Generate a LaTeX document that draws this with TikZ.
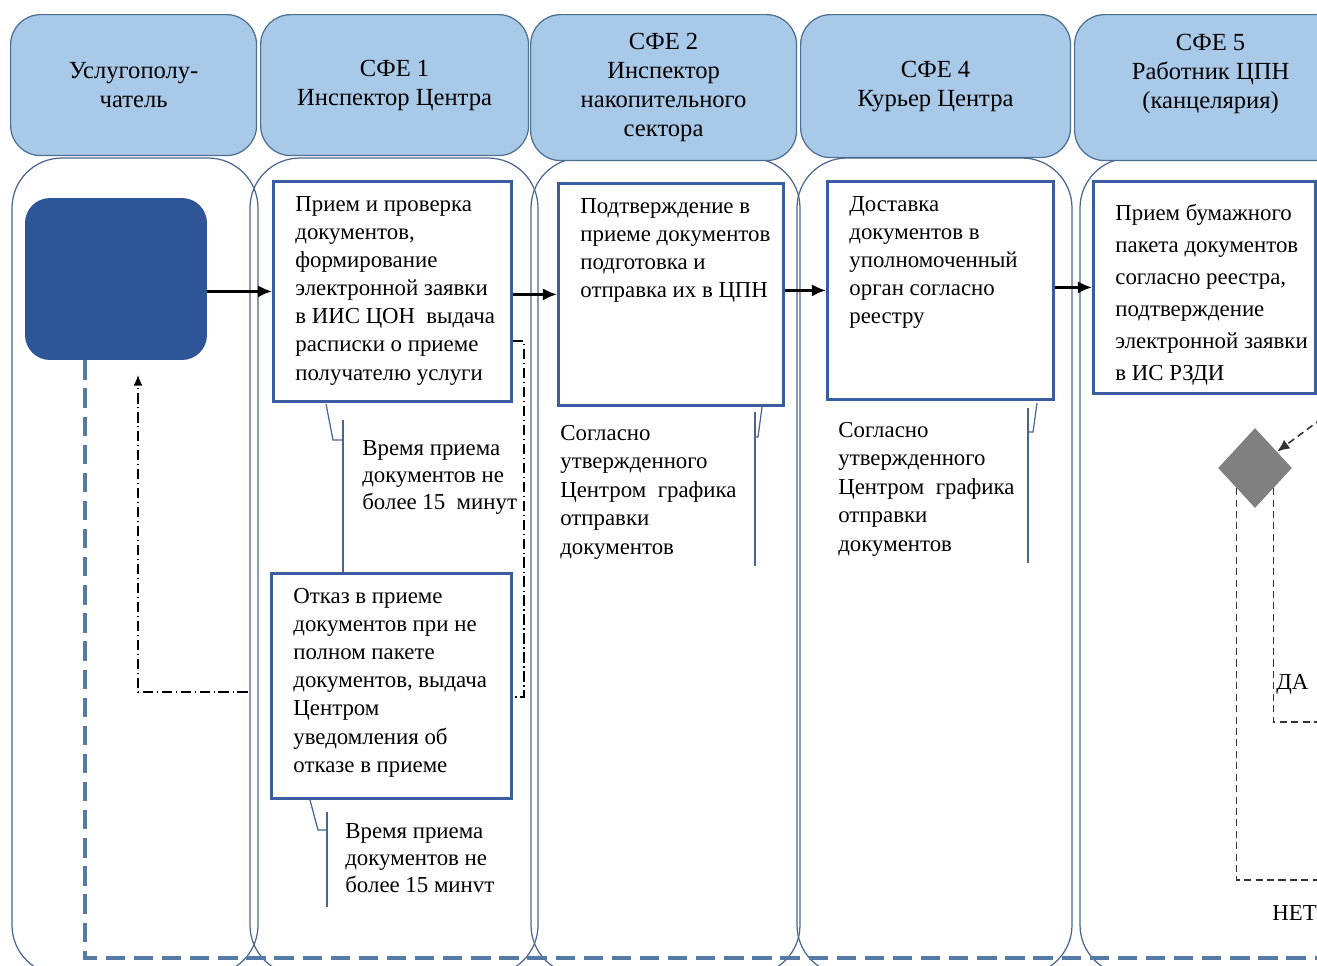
\documentclass[tikz,border=0pt]{standalone}
\usepackage{fontspec}
\setmainfont{Liberation Serif}
\usetikzlibrary{arrows,arrows.meta,shapes.geometric,calc}
\definecolor{hdrfill}{HTML}{A9C9E9}
\definecolor{hdrline}{HTML}{4E6E92}
\definecolor{laneline}{HTML}{4A6690}
\definecolor{boxline}{HTML}{3A5CA0}
\definecolor{startfill}{HTML}{2D5597}
\definecolor{backline}{HTML}{557AA6}
\tikzset{
    header/.style = {draw=hdrline, fill=hdrfill, line width=0.7pt,
        rounded corners=0.6cm, anchor=north west, align=center,
        inner sep=0pt, font=\fontsize{14}{16.5}\selectfont},
    lane/.style = {draw=laneline, line width=0.7pt, rounded corners=1cm},
    procbox/.style = {draw=boxline, line width=1.6pt, fill=white,
        anchor=north west, inner xsep=0pt, inner ysep=0.3cm,
        font=\fontsize{13}{16}\selectfont},
    note/.style = {anchor=north west, align=left, inner sep=0pt,
        font=\fontsize{13}{16}\selectfont},
    flow/.style = {draw, -{Latex[length=8pt,width=7pt]}, line width=2pt},
    callout/.style = {draw=laneline, line width=0.7pt},
    dashdot/.style = {draw, line width=0.8pt,
        dash pattern=on 6pt off 2pt on 0.8pt off 2pt},
    backdash/.style = {draw=backline, line width=2.4pt, dash pattern=on 11pt off 5pt},
    shortdash/.style = {draw=black!80, line width=0.9pt, dash pattern=on 4pt off 2.5pt}
}
\newcommand{\boxtext}[3]{\parbox[t][#2][t]{#1}{\raggedright\leftskip=0.44cm #3}}

\begin{document}
\begin{tikzpicture}[x=0.02cm, y=-0.02cm, >=latex']
        \useasboundingbox (0,0) rectangle (1317,965);
        \clip (0,0) rectangle (1317,965);
        \draw [lane] (12,158) rectangle (258,975);
        \draw [lane] (250,158) rectangle (538,975);
        \draw [lane] (531,158) rectangle (800,975);
        \draw [lane] (797,158) rectangle (1072,975);
        \draw [lane] (1080,158) rectangle (1380,975);
        \node [header, minimum width=4.92cm, minimum height=2.82cm] (client) at (10,14) {Услугополу-\\чатель};
        \node [header, minimum width=5.36cm, minimum height=2.82cm] (sfe1) at (260,14) {СФЕ 1\\Инспектор Центра};
        \node [header, minimum width=5.32cm, minimum height=2.92cm] (sfe2) at (530,14) {СФЕ 2\\Инспектор\\накопительного\\сектора};
        \node [header, minimum width=5.4cm, minimum height=2.86cm] (sfe4) at (800,14) {СФЕ 4\\Курьер Центра};
        \node [header, minimum width=5.44cm, minimum height=2.92cm] (sfe5) at (1074,14) {СФЕ 5\\Работник ЦПН\\(канцелярия)\\[2pt]\mbox{}};

        \node [fill=startfill, rounded corners=0.5cm, minimum width=3.64cm, minimum height=3.24cm] (start) at (116,279) {};
        \node [procbox] (check) at (272,180) {\boxtext{4.76cm}{3.8cm}{Прием и проверка\\документов,\\формирование\\электронной заявки\\в ИИС ЦОН~ выдача\\расписки о приеме\\получателю услуги}};
        \node [procbox] (confirm) at (557,182) {\boxtext{4.5cm}{3.84cm}{Подтверждение в\\приеме документов\\подготовка и\\отправка их в ЦПН}};
        \node [procbox] (deliver) at (826,180) {\boxtext{4.52cm}{3.76cm}{Доставка\\документов в\\уполномоченный\\орган согласно\\реестру}};
        \node [procbox, inner ysep=0.45cm, font=\fontsize{13}{18.2}\selectfont] (accept) at (1092,180) {\boxtext{4.44cm}{3.34cm}{Прием бумажного\\пакета документов\\согласно реестра,\\подтверждение\\электронной заявки\\в ИС РЗДИ}};
        \node [procbox] (refuse) at (270,572) {\boxtext{4.8cm}{3.9cm}{Отказ в приеме\\документов при не\\полном пакете\\документов, выдача\\Центром\\уведомления об\\отказе в приеме}};

        \draw [flow] (start.east |- check.west) -- (check.west);
        \draw [flow] (check.east |- confirm.west) -- (confirm.west);
        \draw [flow] (confirm.east |- deliver.west) -- (deliver.west);
        \draw [flow] (deliver.east |- accept.west) -- (accept.west);

        \node [note, font=\fontsize{13}{15.4}\selectfont] (time1) at (362,440) {Время приема\\документов не\\более 15~ минут};
        \node [note, font=\fontsize{13}{15.4}\selectfont] (time2) at (345,823) {Время приема\\документов не\\более 15 минvт};
        \node [note, font=\fontsize{13}{16.2}\selectfont] (sched2) at (560,425) {Согласно\\утвержденного\\Центром~ графика\\отправки\\документов};
        \node [note, font=\fontsize{13}{16.2}\selectfont] (sched4) at (838,422) {Согласно\\утвержденного\\Центром~ графика\\отправки\\документов};

        \draw [callout] (326,404) -- (333,440) -- (343,440);
        \draw [callout] (343,420) -- (refuse.north -| 343,0);
        \draw [callout] (310,800) -- (318,830) -- (327,830);
        \draw [callout] (327,812) -- (327,907);
        \draw [callout] (762,407) -- (758,437) -- (755,437);
        \draw [callout] (755,412) -- (755,566);
        \draw [callout] (1037,403) -- (1033,432) -- (1028,432);
        \draw [callout] (1028,408) -- (1028,563);

        \coordinate (back) at (138,375);
        \draw [dashdot] (check.east |- 0,341) -| (524,697) -- (refuse.east |- 0,697);
        \draw [dashdot, -{Latex[length=6pt,width=5pt]}] (refuse.west |- 0,692) ++(-22,0) -| (back);
        \draw [backdash] (start.south -| 85,0) -- (85,958) -- (1330,958);

        \node [diamond, fill=black!50, minimum width=1.48cm, minimum height=1.6cm, inner sep=0pt] (dec) at (1255,468) {};
        \coordinate (fromright) at (1340,405);
        \coordinate (yesend) at (1330,722);
        \coordinate (noend) at (1330,880);
        \draw [shortdash, -{Latex[length=7pt,width=6pt]}] (fromright) -- (dec);
        \draw [shortdash] (dec.south east) |- (yesend);
        \draw [shortdash] (dec.south west) |- (noend);
        \node [note] (yes) at (1276,674) {ДА};
        \node [note] (no) at (1272,905) {НЕТ};
\end{tikzpicture}
\end{document}
